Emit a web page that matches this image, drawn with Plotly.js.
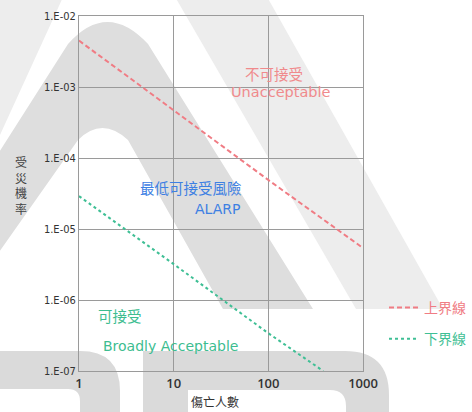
<!DOCTYPE html>
<html>
<head>
<meta charset="utf-8">
<script src="https://cdn.plot.ly/plotly-3.0.1.min.js"></script>
<style>
  html, body { margin: 0; padding: 0; background: #ffffff; }
  #chart { width: 472px; height: 412px; }
</style>
</head>
<body>
<div id="chart"></div>
<script>
// ---- data ----
const deaths = [1, 10, 100, 1000];
const upperBound = [4.5e-3, 4.7e-4, 4.9e-5, 5.4e-6];
const lowerDeaths = [1, 10, 100, 380];
const lowerBound = [2.9e-5, 3.2e-6, 3.4e-7, 1.0e-7];
const xTickVals = [1, 10, 100, 1000];
const xTickText = ['1', '10', '100', '1000'];
const yTickVals = [1e-7, 1e-6, 1e-5, 1e-4, 1e-3, 1e-2];
const yTickText = ['1.E-07', '1.E-06', '1.E-05', '1.E-04', '1.E-03', '1.E-02'];
const seriesNames = ['上界線', '下界線'];

// ---- layout helpers (pixel -> paper) ----
const L = 79, R = 363, T = 16, B = 371;
const px = x => (x - L) / (R - L);
const py = y => (B - y) / (B - T);
const p = (x, y) => px(x).toFixed(4) + ',' + py(y).toFixed(4);

const redLine = '#f07c84', greenLine = '#3fbf95';
const redText = '#f08a8c', blueText = '#3d80e3', greenText = '#3dbd90';

function bgShape(path, color) {
  return { type: 'path', xref: 'paper', yref: 'paper', layer: 'below',
           path: path, fillcolor: color, line: { width: 0 } };
}

const shapes = [
  // light top-left triangle
  bgShape('M' + p(-5, -5) + ' L' + p(64, -5) + ' L' + p(-5, 146) + ' Z', '#ededed'),
  // light diagonal stripe (right)
  bgShape('M' + p(174, -5) + ' L' + p(266, -5) + ' L' + p(443, 309) + ' L' + p(356, 309) + ' Z', '#ededed'),
  // medium arch
  bgShape('M' + p(-60, 245) + ' L' + p(68, 44) + ' Q' + p(107, 0) + ' ' + p(148, 44) +
          ' L' + p(313, 309) + ' L' + p(223, 309) + ' L' + p(128, 140) +
          ' Q' + p(102, 116) + ' ' + p(78, 140) + ' L' + p(-10, 265) + ' Z', '#dedede'),
  // bottom-left band
  bgShape('M' + p(-5, 351) + ' L' + p(80, 351) + ' Q' + p(120, 351) + ' ' + p(120, 391) +
          ' L' + p(120, 417) + ' L' + p(80, 417) + ' L' + p(80, 401) +
          ' Q' + p(80, 389) + ' ' + p(68, 389) + ' L' + p(-5, 389) + ' Z', '#dadada'),
  // bottom-right band
  bgShape('M' + p(143, 417) + ' L' + p(143, 351) + ' L' + p(345, 351) + ' Q' + p(389, 351) + ' ' + p(389, 395) +
          ' L' + p(389, 417) + ' L' + p(346, 417) + ' L' + p(346, 406) +
          ' Q' + p(346, 390) + ' ' + p(330, 390) + ' L' + p(188, 390) + ' L' + p(188, 417) + ' Z', '#dadada')
];

const cjk = '"Noto Sans CJK TC", "Noto Sans CJK SC", sans-serif';
const latin = '"DejaVu Sans", Verdana, sans-serif';

function label(text, x, y, color, family, size) {
  return { text: text, xref: 'paper', yref: 'paper', x: px(x), y: py(y),
           xanchor: 'center', yanchor: 'middle', showarrow: false,
           font: { family: family, size: size, color: color } };
}

const annotations = [
  label('不可接受', 274, 73, redText, cjk, 14.5),
  label('Unacceptable', 281, 92, redText, latin, 14.5),
  label('最低可接受風險', 191, 187, blueText, cjk, 14.5),
  label('ALARP', 217.5, 209, blueText, latin, 14),
  label('可接受', 120, 315, greenText, cjk, 14.5),
  label('Broadly Acceptable', 170.5, 346, greenText, latin, 14),
  label('受<br>災<br>機<br>率', 21, 185, '#444444', cjk, 12),
  label('傷亡人數', 215, 402, '#333333', cjk, 12)
];

const traces = [
  { x: deaths, y: upperBound, type: 'scatter', mode: 'lines',
    name: '<span style="color:' + redLine + '">' + seriesNames[0] + '</span>',
    legendgroup: 'a',
    line: { color: redLine, width: 2, dash: '5px,3px' }, hoverinfo: 'skip' },
  { x: lowerDeaths, y: lowerBound, type: 'scatter', mode: 'lines',
    name: '<span style="color:' + greenLine + '">' + seriesNames[1] + '</span>',
    legendgroup: 'b',
    line: { color: greenLine, width: 2, dash: '3px,3px' }, hoverinfo: 'skip' }
];

const gridColor = '#9a9a9a';
const layout = {
  width: 472, height: 412,
  margin: { l: L, r: 472 - R, t: T, b: 412 - B, pad: 0, autoexpand: false },
  paper_bgcolor: '#ffffff',
  plot_bgcolor: 'rgba(0,0,0,0)',
  showlegend: true,
  legend: {
    x: px(384), y: py(292), xanchor: 'left', yanchor: 'top',
    bgcolor: 'rgba(0,0,0,0)', borderwidth: 0,
    traceorder: 'grouped', tracegroupgap: 10,
    itemwidth: 30,
    font: { family: cjk, size: 14, color: '#333' }
  },
  xaxis: {
    type: 'log', range: [0, 3],
    tickmode: 'array', tickvals: xTickVals, ticktext: xTickText,
    showgrid: true, gridcolor: gridColor, gridwidth: 1,
    showline: true, linecolor: gridColor, linewidth: 1, mirror: true,
    ticks: '', zeroline: false,
    tickfont: { family: '"Open Sans", sans-serif', size: 13, color: '#333333', weight: 600 }
  },
  yaxis: {
    type: 'log', range: [-7, -2],
    tickmode: 'array', tickvals: yTickVals, ticktext: yTickText,
    showgrid: true, gridcolor: gridColor, gridwidth: 1,
    showline: true, linecolor: gridColor, linewidth: 1, mirror: true,
    ticks: '', zeroline: false,
    tickfont: { family: '"Liberation Sans Narrow", "DejaVu Sans Condensed", sans-serif', size: 11, color: '#333333' }
  },
  shapes: shapes,
  annotations: annotations
};

Plotly.newPlot('chart', traces, layout, { displayModeBar: false, staticPlot: true });
</script>
</body>
</html>
